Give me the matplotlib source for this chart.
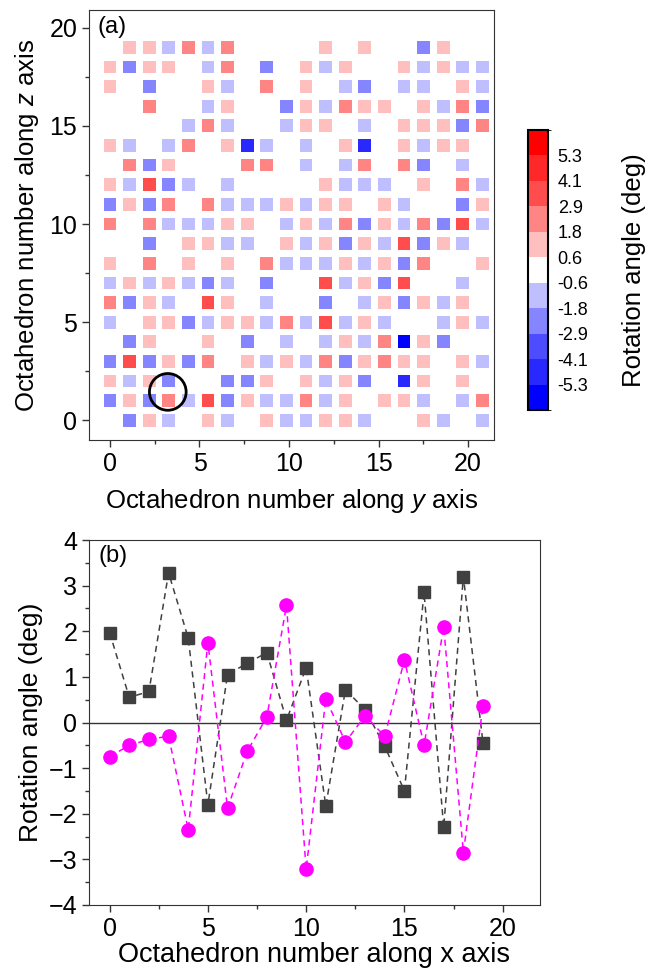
import numpy as np
import matplotlib
matplotlib.use("Agg")
import matplotlib.pyplot as plt
from matplotlib.colors import ListedColormap, BoundaryNorm
from matplotlib.patches import Ellipse
from matplotlib.ticker import MultipleLocator

plt.rcParams['font.family'] = ['Liberation Sans', 'DejaVu Sans']
plt.rcParams['mathtext.fontset'] = 'custom'
plt.rcParams['mathtext.rm'] = 'Liberation Sans'
plt.rcParams['mathtext.it'] = 'Liberation Sans:italic'

# ---- panel (a): colour level of each octahedron, rows from z=19 (top) to z=0
# level 0 = |angle| < 0.6, +-1 .. +-5 = colour bands of the colour bar
grid_levels = [
    [0, 1, 1, -1, 2, -1, 2, 0, 0, 0, 0, 1, 0, 1, 0, 0, -2, 1, 0, 0],    # z=19
    [1, -2, 1, 1, 0, -1, 2, 0, -2, 0, 1, -1, 1, 0, 0, 1, -1, 1, -1, -1],  # z=18
    [1, 0, -2, 0, 0, 1, -1, 0, 2, 0, 1, 0, -1, -2, 0, -1, -1, 0, 1, -1],  # z=17
    [0, 0, 2, 0, 0, -1, 1, 0, 0, -2, 1, -1, 2, 1, 1, 0, 1, -1, 2, -2],    # z=16
    [0, 0, 0, 0, -1, 2, -1, 0, 0, -1, 1, 1, 0, -1, 0, 1, 1, 1, -2, 2],    # z=15
    [1, -1, 0, -1, 2, 0, 1, -4, -1, 0, -1, 0, 1, -4, 0, 1, -1, 1, 1, 0],  # z=14
    [0, 2, -2, 1, 0, 0, 0, 2, 2, 0, -1, 0, -1, 2, 0, 2, -2, 0, -1, 0],    # z=13
    [1, -1, 3, -2, -1, 0, -1, 0, 0, 0, 0, 1, -1, -1, -1, 0, 1, 0, 2, -1], # z=12
    [-2, 1, -2, 2, 0, 2, -1, -1, -1, 1, -1, 1, 1, 0, 1, -1, 0, 0, -2, 1], # z=11
    [2, 0, 2, -1, -1, -1, 1, 1, 0, -1, 1, -1, 2, -2, 1, -1, 2, -2, 3, -1], # z=10
    [0, 0, -2, 0, 1, 1, -1, -1, 0, 1, -1, 1, -2, 1, -1, 3, -2, 1, -1, 0], # z=9
    [1, 0, 2, 0, 1, 0, 1, 0, 2, -1, -1, -1, 1, -1, 1, -2, 2, 0, 0, 1],    # z=8
    [-1, 1, -1, 1, -1, -2, -1, 0, -2, 0, 0, 3, -1, 1, -2, 3, 0, 0, -1, 0], # z=7
    [2, -2, 1, -1, 0, 3, 1, 0, -1, 0, 0, -2, 0, -1, 1, -2, 1, -1, 1, 0],  # z=6
    [-1, 0, 1, 1, -2, -1, 1, 1, -1, 2, -1, 3, -1, 1, -1, 0, 0, -1, 1, -1], # z=5
    [0, -2, 1, 0, 0, 1, 0, -2, 0, -1, 0, -1, 1, -1, 2, -5, 1, -2, 0, 0],  # z=4
    [-2, 3, -2, 1, -2, 2, 0, 1, -1, 1, -1, 2, -2, 1, 2, 1, 1, 0, 1, -1],  # z=3
    [1, -1, 1, -2, 0, 0, -2, -2, 1, 0, 1, -1, 1, -2, 0, -4, 1, 0, 1, 0],  # z=2
    [-2, 1, -2, 2, -1, 3, -2, 1, -1, -1, 2, -1, 1, 0, 1, 1, -1, 0, -1, 2], # z=1
    [0, -2, 1, -1, 0, 1, -1, 0, 1, -1, -1, 1, 1, -1, 0, 0, 1, -1, 0, -1], # z=0
]
level_angle = {0: 0.0, 1: 1.2, 2: 2.35, 3: 3.5, 4: 4.7, 5: 5.9}

cbar_bounds = [-6.5, -5.3, -4.1, -2.9, -1.8, -0.6, 0.6, 1.8, 2.9, 4.1, 5.3, 6.5]
cbar_ticks = [-5.3, -4.1, -2.9, -1.8, -0.6, 0.6, 1.8, 2.9, 4.1, 5.3]
cbar_colors = ['#0000ff', '#2828ff', '#4d4dff', '#8585ff', '#bfbfff', '#ffffff',
               '#ffbfbf', '#ff8585', '#ff4d4d', '#ff2828', '#ff0000']

# ---- panel (b): rotation angle along x
x_num = np.arange(20)
angle_gray = [1.97, 0.55, 0.68, 3.28, 1.85, -1.8, 1.05, 1.3, 1.53, 0.05,
              1.2, -1.83, 0.72, 0.28, -0.52, -1.5, 2.85, -2.3, 3.2, -0.45]
angle_mag = [-0.75, -0.5, -0.37, -0.3, -2.35, 1.75, -1.88, -0.63, 0.12, 2.57,
             -3.22, 0.52, -0.43, 0.15, -0.3, 1.37, -0.5, 2.1, -2.85, 0.37]

# the horizontal cell pitch in (a) is a bit wider than one tick unit
cell_pitch = 1.095

W, H = 669, 969
fig = plt.figure(figsize=(W / 100, H / 100), dpi=100)

# %% panel a
ax = fig.add_axes([89 / W, 1 - 440 / H, (494 - 89) / W, (440 - 10) / H])
nz = len(grid_levels)
yy, zz, vals = [], [], []
for i, row in enumerate(grid_levels):
    z = nz - 1 - i
    for y, lv in enumerate(row):
        yy.append(y * cell_pitch)
        zz.append(z)
        vals.append(np.sign(lv) * level_angle[abs(lv)])

cmap = ListedColormap(cbar_colors)
norm = BoundaryNorm(cbar_bounds, cmap.N)
sc = ax.scatter(yy, zz, c=vals, cmap=cmap, norm=norm, marker='s', s=84,
                linewidths=0)
ax.add_patch(Ellipse((2.95 * cell_pitch, 1.45), 2.05, 1.87, fill=False,
                     ec='black', lw=2))

ax.set_xlim(-1.17, 21.45)
ax.set_ylim(-1.0, 20.9)
ax.xaxis.set_major_locator(MultipleLocator(5))
ax.yaxis.set_major_locator(MultipleLocator(5))
ax.xaxis.set_minor_locator(MultipleLocator(2.5))
ax.yaxis.set_minor_locator(MultipleLocator(2.5))
ax.tick_params(which='both', direction='out', labelsize=18, width=1,
               color='#333333', top=False, right=False)
ax.tick_params(which='major', length=5)
ax.tick_params(which='minor', length=3)
for sp in ax.spines.values():
    sp.set_color('#333333')
ax.set_xlabel('Octahedron number along $y$ axis', fontsize=18.5, labelpad=8)
ax.set_ylabel('Octahedron number along $z$ axis', fontsize=18.5, labelpad=6)
ax.text(0.02, 0.985, '(a)', transform=ax.transAxes, fontsize=17,
        ha='left', va='top')

cax = fig.add_axes([528 / W, 1 - 410 / H, 20 / W, 280 / H])
cb = fig.colorbar(sc, cax=cax, boundaries=cbar_bounds, ticks=cbar_ticks,
                  spacing='uniform')
cb.ax.set_yticklabels([f'{t:.1f}' for t in cbar_ticks])
cb.ax.tick_params(length=0, labelsize=13, pad=7)
cb.outline.set_linewidth(1.5)
cb.set_label('Rotation angle (deg)', fontsize=18.5, labelpad=24)

# %% panel b
bx = fig.add_axes([89 / W, 1 - 905 / H, (540 - 89) / W, (905 - 540) / H])
bx.axhline(0, color='#333333', lw=1)
bx.plot(x_num, angle_gray, 's--', color='#404040', ms=8.5, lw=1.1,
        dashes=(4, 3))
bx.plot(x_num, angle_mag, 'o--', color='#ff00ff', ms=9.5, lw=1.1,
        dashes=(4, 3))
bx.set_xlim(-1.05, 21.9)
bx.set_ylim(-4, 4)
bx.xaxis.set_major_locator(MultipleLocator(5))
bx.xaxis.set_minor_locator(MultipleLocator(2.5))
bx.yaxis.set_major_locator(MultipleLocator(1))
bx.yaxis.set_minor_locator(MultipleLocator(0.5))
bx.tick_params(which='both', direction='out', labelsize=18, width=1,
               color='#333333', top=False, right=False)
bx.tick_params(which='major', length=5)
bx.tick_params(which='minor', length=3)
for sp in bx.spines.values():
    sp.set_color('#333333')
bx.set_xlabel('Octahedron number along x axis', fontsize=19.5, labelpad=1)
bx.set_ylabel('Rotation angle (deg)', fontsize=19, labelpad=4)
bx.text(0.02, 0.985, '(b)', transform=bx.transAxes, fontsize=17,
        ha='left', va='top')

fig.savefig('out.png', dpi=100)
